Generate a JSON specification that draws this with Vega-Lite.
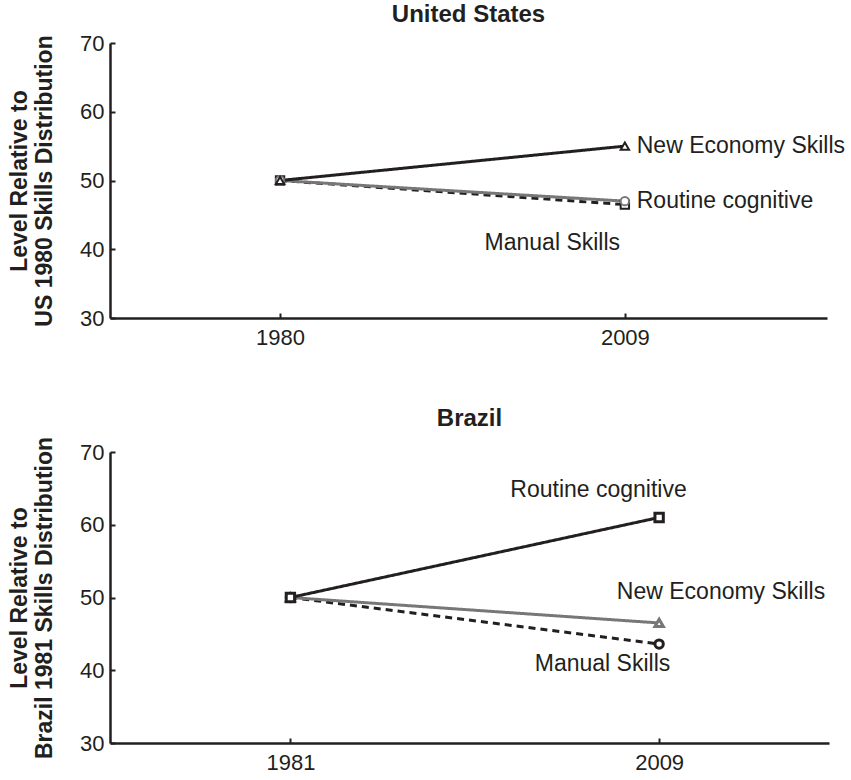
{
  "$schema": "https://vega.github.io/schema/vega-lite/v6.json",
  "background": "white",
  "padding": {"left": 8, "top": 3, "right": 5, "bottom": 0},
  "spacing": 59,
  "resolve": {"scale": {"color": "independent", "shape": "independent", "strokeDash": "independent"}},
  "config": {
    "font": "Liberation Sans",
    "view": {"stroke": null},
    "title": {"fontSize": 24, "fontWeight": "bold", "color": "#231f20", "offset": 5},
    "axis": {
      "grid": false,
      "domainColor": "#231f20",
      "domainWidth": 2.5,
      "tickColor": "#231f20",
      "tickWidth": 2,
      "tickSize": -5,
      "labelFontSize": 22,
      "labelColor": "#231f20",
      "titleFontSize": 23,
      "titleFontWeight": "bold",
      "titleColor": "#231f20",
      "titleLineHeight": 25
    },
    "text": {"font": "Liberation Sans", "fontSize": 23, "color": "#231f20"}
  },
  "datasets": {
    "us": [
      {"series": "Manual Skills", "year": 1980, "value": 50},
      {"series": "Manual Skills", "year": 2009, "value": 46.5},
      {"series": "Routine cognitive", "year": 1980, "value": 50},
      {"series": "Routine cognitive", "year": 2009, "value": 47},
      {"series": "New Economy Skills", "year": 1980, "value": 50},
      {"series": "New Economy Skills", "year": 2009, "value": 55}
    ],
    "br": [
      {"series": "Manual Skills", "year": 1981, "value": 50},
      {"series": "Manual Skills", "year": 2009, "value": 43.6},
      {"series": "New Economy Skills", "year": 1981, "value": 50},
      {"series": "New Economy Skills", "year": 2009, "value": 46.5},
      {"series": "Routine cognitive", "year": 1981, "value": 50},
      {"series": "Routine cognitive", "year": 2009, "value": 61}
    ],
    "us_left": [
      {"label": "New Economy Skills", "year": 2010, "value": 55},
      {"label": "Routine cognitive", "year": 2010, "value": 47}
    ],
    "us_center": [
      {"label": "Manual Skills", "year": 2002.9, "value": 40.9}
    ],
    "br_center": [
      {"label": "Routine cognitive", "year": 2004.4, "value": 64.8},
      {"label": "New Economy Skills", "year": 2013.7, "value": 50.8},
      {"label": "Manual Skills", "year": 2004.7, "value": 40.9}
    ]
  },
  "vconcat": [
    {
      "title": "United States",
      "width": 717,
      "height": 275,
      "encoding": {
        "x": {"field": "year", "type": "quantitative", "scale": {"domain": [1965.7, 2026], "nice": false, "zero": false},
              "axis": {"values": [1980, 2009], "format": "d", "title": null, "labelPadding": 14}},
        "y": {"field": "value", "type": "quantitative", "scale": {"domain": [30, 70], "nice": false, "zero": false},
              "axis": {"values": [30, 40, 50, 60, 70], "title": ["Level Relative to", "US 1980 Skills Distribution"], "labelPadding": 11, "titlePadding": 23}}
      },
      "layer": [
        {
          "data": {"name": "us"},
          "mark": {"type": "line", "strokeWidth": 3},
          "encoding": {
            "detail": {"field": "series"},
            "color": {"field": "series", "type": "nominal", "legend": null,
                      "scale": {"domain": ["Manual Skills", "Routine cognitive", "New Economy Skills"], "range": ["#231f20", "#777777", "#231f20"]}},
            "strokeDash": {"field": "series", "type": "nominal", "legend": null,
                      "scale": {"domain": ["Manual Skills", "Routine cognitive", "New Economy Skills"], "range": [[7, 5], [1, 0], [1, 0]]}},
            "order": {"field": "year"}
          }
        },
        {
          "data": {"name": "us"},
          "mark": {"type": "point", "filled": false, "strokeWidth": 2, "size": 70, "fill": "white", "opacity": 1},
          "encoding": {
            "color": {"field": "series", "type": "nominal", "legend": null},
            "shape": {"field": "series", "type": "nominal", "legend": null,
                      "scale": {"domain": ["Manual Skills", "Routine cognitive", "New Economy Skills"], "range": ["square", "circle", "triangle-up"]}}
          }
        },
        {
          "data": {"name": "us_left"},
          "mark": {"type": "text", "align": "left", "baseline": "middle"},
          "encoding": {"text": {"field": "label"}}
        },
        {
          "data": {"name": "us_center"},
          "mark": {"type": "text", "align": "center", "baseline": "middle"},
          "encoding": {"text": {"field": "label"}}
        }
      ]
    },
    {
      "title": "Brazil",
      "width": 719,
      "height": 291,
      "encoding": {
        "x": {"field": "year", "type": "quantitative", "scale": {"domain": [1967.3, 2021.9], "nice": false, "zero": false},
              "axis": {"values": [1981, 2009], "format": "d", "title": null, "labelPadding": 14}},
        "y": {"field": "value", "type": "quantitative", "scale": {"domain": [30, 70], "nice": false, "zero": false},
              "axis": {"values": [30, 40, 50, 60, 70], "title": ["Level Relative to", "Brazil 1981 Skills Distribution"], "labelPadding": 11, "titlePadding": 23}}
      },
      "layer": [
        {
          "data": {"name": "br"},
          "mark": {"type": "line", "strokeWidth": 3},
          "encoding": {
            "detail": {"field": "series"},
            "color": {"field": "series", "type": "nominal", "legend": null,
                      "scale": {"domain": ["Manual Skills", "New Economy Skills", "Routine cognitive"], "range": ["#231f20", "#777777", "#231f20"]}},
            "strokeDash": {"field": "series", "type": "nominal", "legend": null,
                      "scale": {"domain": ["Manual Skills", "New Economy Skills", "Routine cognitive"], "range": [[7, 5], [1, 0], [1, 0]]}},
            "order": {"field": "year"}
          }
        },
        {
          "data": {"name": "br"},
          "mark": {"type": "point", "filled": false, "strokeWidth": 3, "size": 70, "fill": "white", "opacity": 1},
          "encoding": {
            "color": {"field": "series", "type": "nominal", "legend": null},
            "shape": {"field": "series", "type": "nominal", "legend": null,
                      "scale": {"domain": ["Manual Skills", "New Economy Skills", "Routine cognitive"], "range": ["circle", "triangle-up", "square"]}}
          }
        },
        {
          "data": {"name": "br_center"},
          "mark": {"type": "text", "align": "center", "baseline": "middle"},
          "encoding": {"text": {"field": "label"}}
        }
      ]
    }
  ]
}
